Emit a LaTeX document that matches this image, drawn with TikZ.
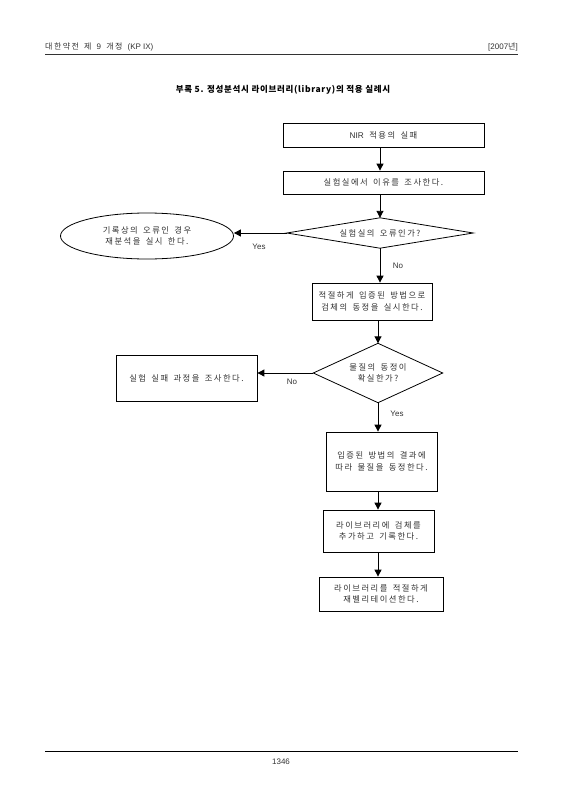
\documentclass[tikz,border=0pt]{standalone}
\usepackage{fontspec}
\setmainfont{Noto Sans CJK KR}[LetterSpace=18,WordSpace=1.6]
\newfontfamily\titlefont{Noto Sans CJK KR}[LetterSpace=8]
\newfontfamily\latinfont{Liberation Sans}
\newcommand{\lt}[1]{{\latinfont #1}}
\usetikzlibrary{shapes.geometric,arrows.meta}
\begin{document}
\begin{tikzpicture}[x=1pt,y=-1pt,
  every node/.style={inner sep=0pt,font=\fontsize{8.3}{11.5}\selectfont,text=black!80,align=center},
  box/.style={draw,line width=0.8pt,minimum width=#1},
  dia/.style={minimum width=#1},
  arr/.style={line width=0.9pt,-{Triangle[length=7pt,width=7pt]}},
  lab/.style={font=\latinfont\fontsize{8}{10}\selectfont}
]
\useasboundingbox (0,0) rectangle (565,800);
\fill[white] (0,0) rectangle (565,800);
% header
\node[anchor=west,font=\fontsize{8}{10}\selectfont] (hl) at (45,47) {대한약전 제 \lt{9} 개정 \lt{(KP IX)}};
\node[anchor=east,font=\fontsize{8}{10}\selectfont] (hr) at (518,47) {\lt{[2007}년\lt{]}};
\coordinate (r1a) at (45,54.5);
\coordinate (r1b) at (518,54.5);
\draw[line width=1.2pt,black!80] (r1a) -- (r1b);
\node[font=\titlefont\bfseries\fontsize{8.5}{10}\selectfont,text=black] (title) at (283,90) {부록 5. 정성분석시 라이브러리(library)의 적용 실례시};
% footer
\coordinate (r2a) at (45,751);
\coordinate (r2b) at (518,751);
\draw[line width=1pt] (r2a) -- (r2b);
\node[lab] (pg) at (281,762) {1346};
% flow
\node[box=201pt,minimum height=24pt] (b1) at (383.5,135) {\lt{NIR} 적용의 실패};
\node[box=201pt,minimum height=23pt] (b2) at (383.5,182.5) {실험실에서 이유를 조사한다.};
\node[dia=186pt,minimum height=30pt] (d1) at (380,233) {실험실의 오류인가?};
\draw[line width=0.8pt] (d1.north) -- (d1.east) -- (d1.south) -- (d1.west) -- cycle;
\node[draw,ellipse,line width=0.8pt,minimum width=173pt,minimum height=46pt] (e1) at (147,236) {기록상의 오류인  경우\\재분석을 실시 한다.};
\node[box=120pt,minimum height=37pt] (b3) at (372,301.5) {적절하게 입증된 방법으로\\검체의 동정을 실시한다.};
\node[dia=129pt,minimum height=59pt] (d2) at (378,373) {물질의 동정이\\확실한가?};
\draw[line width=0.8pt] (d2.north) -- (d2.east) -- (d2.south) -- (d2.west) -- cycle;
\node[box=141pt,minimum height=46pt] (b4) at (186.5,378) {실험 실패 과정을 조사한다.};
\node[box=111pt,minimum height=59pt] (b5) at (381.5,461.5) {입증된 방법의 결과에\\따라 물질을 동정한다.};
\node[box=111pt,minimum height=42pt] (b6) at (378.5,531) {라이브러리에 검체를\\추가하고 기록한다.};
\node[box=124pt,minimum height=34pt] (b7) at (381,594) {라이브러리를 적절하게\\재벨리테이션한다.};
% connectors
\draw[arr] (b1.south -| d1.north) -- (b2.north -| d1.north);
\draw[arr] (b2.south -| d1.north) -- (d1.north);
\draw[arr] (d1.west) -- (e1.east |- d1.west);
\draw[arr] (d1.south) -- (b3.north -| d1.south);
\draw[arr] (b3.south -| d2.north) -- (d2.north);
\draw[arr] (d2.west) -- (b4.east |- d2.west);
\draw[arr] (d2.south) -- (b5.north -| d2.south);
\draw[arr] (b5.south -| d2.south) -- (b6.north -| d2.south);
\draw[arr] (b6.south -| d2.south) -- (b7.north -| d2.south);
% labels
\node[lab] (y1) at (259,247) {Yes};
\node[lab] (n1) at (398,266) {No};
\node[lab] (n2) at (292,382) {No};
\node[lab] (y2) at (397,414) {Yes};
\end{tikzpicture}
\end{document}
